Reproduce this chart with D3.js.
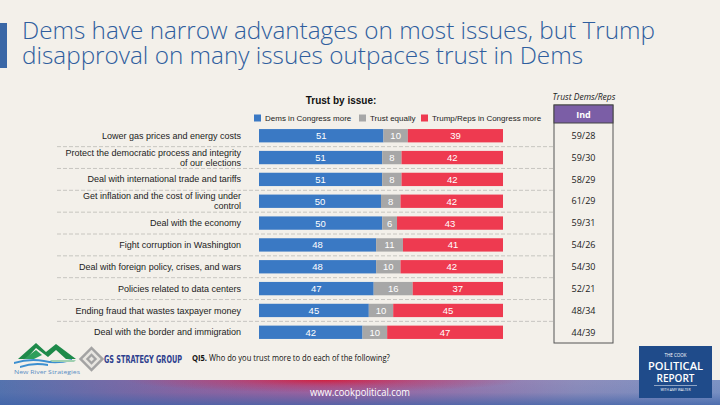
<!DOCTYPE html>
<html><head><meta charset="utf-8">
<script src="https://cdn.jsdelivr.net/npm/d3@7"></script>
<style>html,body{margin:0;padding:0;background:#F3F0EA;}svg{display:block;}</style>
</head><body>
<svg id="c" width="720" height="405"></svg>
<script>
// ---- data ----
const categories = [
  "Lower gas prices and energy costs",
  "Protect the democratic process and integrity\nof our elections",
  "Deal with international trade and tariffs",
  "Get inflation and the cost of living under\ncontrol",
  "Deal with the economy",
  "Fight corruption in Washington",
  "Deal with foreign policy, crises, and wars",
  "Policies related to data centers",
  "Ending fraud that wastes taxpayer money",
  "Deal with the border and immigration"
];
const demsMore   = [51, 51, 51, 50, 50, 48, 48, 47, 45, 42];
const trustEqual = [10,  8,  8,  8,  6, 11, 10, 16, 10, 10];
const trumpMore  = [39, 42, 42, 42, 43, 41, 42, 37, 45, 47];
const indTrust   = ["59/28","59/30","58/29","61/29","59/31","54/26","54/30","52/21","48/34","44/39"];
const seriesKeys = ["dems","equal","trump"];
const seriesNames = ["Dems in Congress more","Trust equally","Trump/Reps in Congress more"];
const seriesColors = ["#3A79C4","#A7A7A7","#EE3A50"];

const svg = d3.select("#c");
const defs = svg.append("defs");

// background
svg.append("rect").attr("width",720).attr("height",405).attr("fill","#F3F0EA");

// title
svg.append("rect").attr("x",0).attr("y",23).attr("width",7).attr("height",45).attr("fill","#3A67A6");
const titleLines = [
  {t:"Dems have narrow advantages on most issues, but Trump", y:39, w:633},
  {t:"disapproval on many issues outpaces trust in Dems", y:64, w:561}
];
svg.selectAll("text.title").data(titleLines).join("text")
  .attr("class","title").attr("x",22).attr("y",d=>d.y)
  .attr("textLength",d=>d.w).attr("lengthAdjust","spacingAndGlyphs")
  .attr("font-family","Open Sans").attr("font-size",23.5).attr("font-weight",300)
  .attr("fill","#2F5E9E").text(d=>d.t);

// scales
const x = d3.scaleLinear().domain([0,1]).range([259,503]);
const y = d3.scaleBand().domain(categories).range([124.8,343.2]).paddingInner(0.39).paddingOuter(0.195);
const color = d3.scaleOrdinal().domain(seriesKeys).range(seriesColors);

const rows = categories.map((c,i)=>({cat:c, dems:demsMore[i], equal:trustEqual[i], trump:trumpMore[i]}));
const stacked = d3.stack().keys(seriesKeys).offset(d3.stackOffsetExpand)(rows);

// separators
const sepY = categories.slice(0,-1).map(c => y(c) + y.bandwidth() + y.step()*y.paddingInner()/2);
svg.selectAll("line.sep").data(sepY).join("line").attr("class","sep")
  .attr("x1",57).attr("x2",554).attr("y1",d=>d).attr("y2",d=>d)
  .attr("stroke","#BDBBB6").attr("stroke-width",0.8).attr("stroke-dasharray","4,2");

// legend
svg.append("text").attr("x",341).attr("y",104).attr("text-anchor","middle")
  .attr("font-family","Liberation Sans").attr("font-weight","bold").attr("font-size",10)
  .attr("fill","#111").text("Trust by issue:");
const legX = [254, 359, 421];
const leg = svg.selectAll("g.leg").data(seriesKeys).join("g").attr("class","leg")
  .attr("transform",(d,i)=>`translate(${legX[i]},114.5)`);
leg.append("rect").attr("width",7).attr("height",7).attr("fill",d=>color(d));
leg.append("text").attr("x",11).attr("y",6.6).attr("font-family","Liberation Sans")
  .attr("font-size",8).attr("fill","#222").text((d,i)=>seriesNames[i]);

// bars
const layer = svg.selectAll("g.layer").data(stacked).join("g").attr("class","layer")
  .attr("fill",d=>color(d.key));
layer.selectAll("rect").data(d=>d).join("rect")
  .attr("x",d=>x(d[0])).attr("width",d=>x(d[1])-x(d[0]))
  .attr("y",d=>y(d.data.cat)).attr("height",y.bandwidth());
layer.selectAll("text").data(d=>d.map(v=>({v, key:d.key}))).join("text")
  .attr("x",d=>(x(d.v[0])+x(d.v[1]))/2).attr("y",d=>y(d.v.data.cat)+y.bandwidth()/2)
  .attr("dy","0.36em").attr("text-anchor","middle")
  .attr("font-family","Liberation Sans").attr("font-size",9.5).attr("fill","#fff")
  .text(d=>d.v.data[d.key]);

// category labels
const lab = svg.selectAll("text.cat").data(categories).join("text").attr("class","cat")
  .attr("text-anchor","end").attr("font-family","Liberation Sans").attr("font-size",9)
  .attr("fill","#222");
lab.each(function(c){
  const lines = c.split("\n");
  const cy = y(c)+y.bandwidth()/2;
  const g = d3.select(this);
  lines.forEach((l,k)=>{
    g.append("tspan").attr("x",241)
      .attr("y", cy + (k-(lines.length-1)/2)*9.8).attr("dy","0.34em").text(l);
  });
});

// table
svg.append("text").attr("x",584).attr("y",100).attr("text-anchor","middle")
  .attr("font-family","Open Sans").attr("font-style","italic").attr("font-size",8.5)
  .attr("fill","#222").text("Trust Dems/Reps");
svg.append("rect").attr("x",554).attr("y",105).attr("width",59).attr("height",238)
  .attr("fill","none").attr("stroke","#555").attr("stroke-width",1);
svg.append("rect").attr("x",554).attr("y",105).attr("width",59).attr("height",18)
  .attr("fill","#7B5EA6").attr("stroke","#444").attr("stroke-width",1);
svg.append("text").attr("x",583.5).attr("y",117.5).attr("text-anchor","middle")
  .attr("font-family","Open Sans").attr("font-weight","bold").attr("font-size",9)
  .attr("fill","#fff").text("Ind");
svg.selectAll("text.ind").data(indTrust).join("text").attr("class","ind")
  .attr("x",583.5).attr("y",(d,i)=>y(categories[i])+y.bandwidth()/2).attr("dy","0.36em")
  .attr("text-anchor","middle").attr("font-family","Open Sans").attr("font-size",9)
  .attr("fill","#222").text(d=>d);

// footer band
const hg = defs.append("linearGradient").attr("id","fh").attr("x1","0").attr("x2","1").attr("y1","0").attr("y2","0");
[[0,"#5573AE"],[0.25,"#8A65A2"],[0.45,"#A4619E"],[0.6,"#9A72AA"],[0.8,"#8E8DBB"],[1,"#7C93C4"]]
  .forEach(s=>hg.append("stop").attr("offset",s[0]).attr("stop-color",s[1]));
const vg = defs.append("linearGradient").attr("id","fv").attr("x1","0").attr("x2","0").attr("y1","0").attr("y2","1");
[[0,"#3E62A8",0],[0.5,"#3E62A8",0.1],[1,"#3E62A8",0.75]]
  .forEach(s=>vg.append("stop").attr("offset",s[0]).attr("stop-color",s[1]).attr("stop-opacity",s[2]));
const rg = defs.append("radialGradient").attr("id","fr").attr("cx","0.45").attr("cy","0").attr("r","0.5")
  .attr("gradientTransform","translate(0.45,0) scale(0.55,1) translate(-0.45,0)");
[[0,"#D21E3C",0.95],[0.5,"#C8305A",0.45],[1,"#C8305A",0]]
  .forEach(s=>rg.append("stop").attr("offset",s[0]).attr("stop-color",s[1]).attr("stop-opacity",s[2]));
svg.append("rect").attr("x",0).attr("y",380).attr("width",720).attr("height",25).attr("fill","url(#fh)");
svg.append("rect").attr("x",0).attr("y",380).attr("width",720).attr("height",25).attr("fill","url(#fr)");
svg.append("rect").attr("x",0).attr("y",380).attr("width",720).attr("height",25).attr("fill","url(#fv)");
svg.append("text").attr("x",360).attr("y",396).attr("text-anchor","middle")
  .attr("font-family","Open Sans").attr("font-size",11).attr("fill","#fff")
  .attr("textLength",100).attr("lengthAdjust","spacingAndGlyphs").text("www.cookpolitical.com");

// question note (single text, horizontally condensed to fit)
const qg = svg.append("g");
const q = qg.append("text").attr("x",0).attr("y",0).attr("font-family","Open Sans")
  .attr("font-size",8.5).attr("fill","#111");
q.append("tspan").attr("font-weight","bold").text("QI5.");
q.append("tspan").text(" Who do you trust more to do each of the following?");
const qLen = q.node().getComputedTextLength() || 230;
qg.attr("transform",`translate(192,361) scale(${198/qLen},1)`);

// New River Strategies logo
const nr = svg.append("g");
nr.append("path").attr("d","M18,359 L36,343 L46,352 L56,344 L76,359 L66,359 L56,350 L48,357 L36,348 L26,359 Z").attr("fill","#1E8A4A");
nr.append("path").attr("d","M24,359 L36,350 L42,355 L34,359 Z").attr("fill","#2E9E5A");
nr.append("path").attr("d","M14,362 Q30,357 44,360 Q56,363 72,359 L72,361 Q56,365 44,362 Q30,359 14,364 Z").attr("fill","#3C8FD0");
nr.append("path").attr("d","M20,366 Q34,361 48,364 L48,366 Q34,363 20,368 Z").attr("fill","#3C8FD0");
nr.append("path").attr("d","M50,360 L76,360 L74,362 L52,362 Z").attr("fill","#9FCFB0");
nr.append("text").attr("x",47).attr("y",374).attr("text-anchor","middle").attr("font-family","Open Sans")
  .attr("font-size",5.5).attr("fill","#5B8FC4").attr("textLength",66).attr("lengthAdjust","spacingAndGlyphs")
  .text("New River Strategies");

// GS Strategy Group logo
const gs = svg.append("g").attr("transform","translate(91.5,359)");
[9,6.5,4,1.8].forEach((r,i)=>gs.append("rect").attr("x",-r).attr("y",-r).attr("width",2*r).attr("height",2*r)
  .attr("transform","rotate(45)").attr("fill",i%2?"#E8E6E1":"#A3A3A3"));
svg.append("text").attr("x",104).attr("y",363).attr("font-family","DejaVu Sans Condensed, DejaVu Sans")
  .attr("font-weight","bold").attr("font-size",10).attr("fill","#2E3F8E")
  .attr("textLength",78).attr("lengthAdjust","spacingAndGlyphs").text("GS STRATEGY GROUP");

// Cook Political Report logo
const ck = svg.append("g");
ck.append("rect").attr("x",639).attr("y",346).attr("width",73).attr("height",52).attr("fill","#1F4B8A");
ck.append("text").attr("x",675.5).attr("y",357).attr("text-anchor","middle").attr("font-family","Open Sans")
  .attr("font-size",4.5).attr("fill","#fff").attr("textLength",22).attr("lengthAdjust","spacingAndGlyphs").text("THE COOK");
ck.append("text").attr("x",675.5).attr("y",369.5).attr("text-anchor","middle").attr("font-family","Open Sans")
  .attr("font-weight",600).attr("font-size",10).attr("fill","#fff").attr("textLength",55).attr("lengthAdjust","spacingAndGlyphs").text("POLITICAL");
ck.append("text").attr("x",675.5).attr("y",382).attr("text-anchor","middle").attr("font-family","Open Sans")
  .attr("font-weight",600).attr("font-size",10).attr("fill","#fff").attr("textLength",38).attr("lengthAdjust","spacingAndGlyphs").text("REPORT");
ck.append("line").attr("x1",654).attr("x2",697).attr("y1",385.5).attr("y2",385.5).attr("stroke","#fff").attr("stroke-width",0.5);
ck.append("text").attr("x",675.5).attr("y",390.5).attr("text-anchor","middle").attr("font-family","Open Sans")
  .attr("font-size",3.5).attr("fill","#fff").attr("textLength",30).attr("lengthAdjust","spacingAndGlyphs").text("WITH AMY WALTER");
</script>
</body></html>
